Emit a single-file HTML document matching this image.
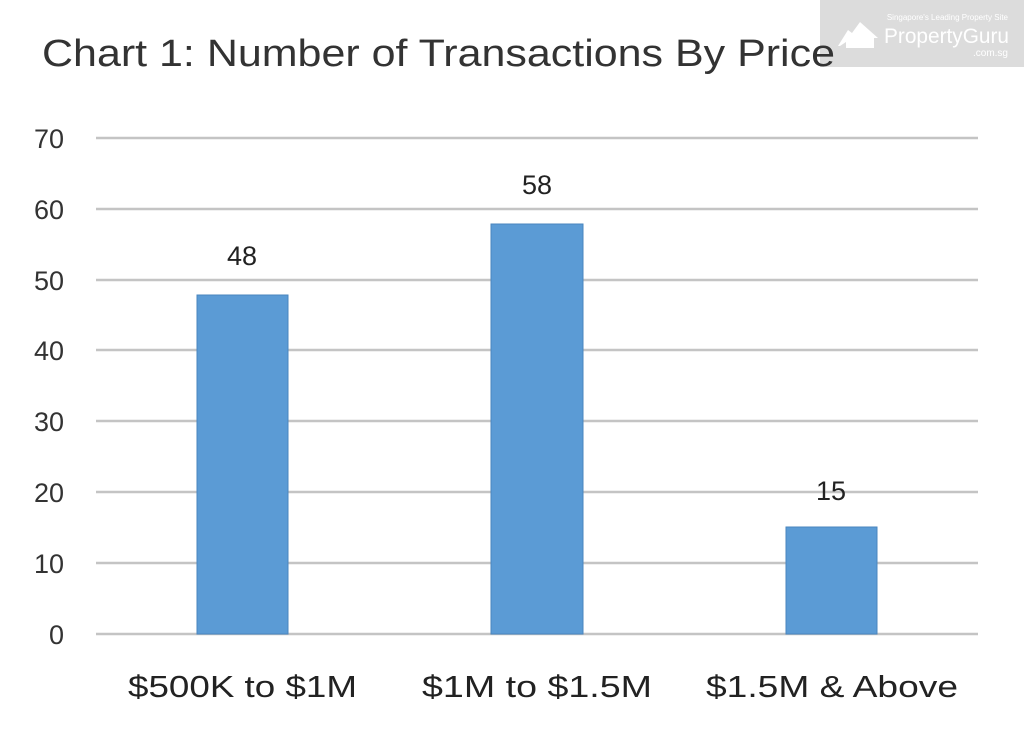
<!DOCTYPE html>
<html><head><style>
body{margin:0;background:#fff;}
svg{display:block;font-family:"Liberation Sans","DejaVu Sans",sans-serif;}
</style></head><body>
<svg width="1024" height="735" viewBox="0 0 1024 735">
<rect width="1024" height="735" fill="#fff"/>
<rect x="820" y="0" width="204" height="67" fill="#dcdcdc"/>
<text x="1008" y="20" font-size="8" fill="#fff" text-anchor="end">Singapore's Leading Property Site</text>
<path d="M838 46 L848 30 L852 33 L860 22 L878 38 L874 38 L874 48 L846 48 L846 42 L840 46Z" fill="#fff"/>
<text x="884" y="43" font-size="21" fill="#fff" textLength="125" lengthAdjust="spacingAndGlyphs">PropertyGuru</text>
<text x="1008" y="56" font-size="10" fill="#fff" text-anchor="end">.com.sg</text>
<text x="42" y="66" font-size="38" fill="#333" textLength="793" lengthAdjust="spacingAndGlyphs">Chart 1: Number of Transactions By Price</text>
<g stroke="#c4c4c4" stroke-width="2.5">
<line x1="96" x2="978" y1="138" y2="138"/>
<line x1="96" x2="978" y1="209" y2="209"/>
<line x1="96" x2="978" y1="280" y2="280"/>
<line x1="96" x2="978" y1="350" y2="350"/>
<line x1="96" x2="978" y1="421" y2="421"/>
<line x1="96" x2="978" y1="492" y2="492"/>
<line x1="96" x2="978" y1="563" y2="563"/>
<line x1="96" x2="978" y1="634" y2="634"/>
</g>
<g font-size="27" fill="#333" text-anchor="end">
<text x="64" y="148">70</text><text x="64" y="219">60</text><text x="64" y="290">50</text>
<text x="64" y="360">40</text><text x="64" y="431">30</text><text x="64" y="502">20</text>
<text x="64" y="573">10</text><text x="64" y="644">0</text>
</g>
<g fill="#5b9bd5" stroke="#4a86be" stroke-width="1">
<rect x="197" y="295" width="91" height="339"/>
<rect x="491" y="224" width="92" height="410"/>
<rect x="786" y="527" width="91" height="107"/>
</g>
<g font-size="27" fill="#222" text-anchor="middle">
<text x="242" y="265">48</text><text x="537" y="194">58</text><text x="831" y="500">15</text>
</g>
<g font-size="31" fill="#222">
<text x="128" y="697" textLength="229" lengthAdjust="spacingAndGlyphs">$500K to $1M</text>
<text x="422" y="697" textLength="230" lengthAdjust="spacingAndGlyphs">$1M to $1.5M</text>
<text x="706" y="697" textLength="252" lengthAdjust="spacingAndGlyphs">$1.5M &amp; Above</text>
</g>
</svg>
</body></html>
